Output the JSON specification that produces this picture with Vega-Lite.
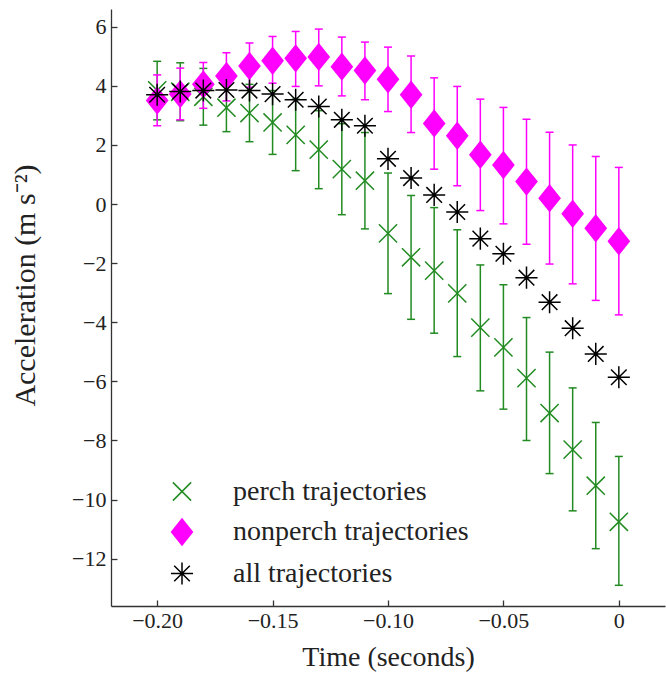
{
  "$schema": "https://vega.github.io/schema/vega-lite/v6.json",
  "autosize": {"type": "none"},
  "width": 554,
  "height": 597,
  "padding": {"left": 111, "top": 9, "right": 1, "bottom": 79},
  "background": "white",
  "config": {
    "font": "Liberation Serif",
    "view": {"stroke": null},
    "axis": {
      "grid": false,
      "labelFont": "Liberation Serif",
      "titleFont": "Liberation Serif",
      "labelFontSize": 22,
      "titleFontSize": 28,
      "titleFontWeight": "normal",
      "labelColor": "#222222",
      "titleColor": "#222222",
      "domainColor": "#333333",
      "tickColor": "#333333",
      "domainWidth": 1.3,
      "tickWidth": 1.3,
      "tickSize": -6
    },
    "legend": {
      "labelFont": "Liberation Serif",
      "labelFontSize": 28,
      "labelColor": "#222222",
      "labelLimit": 500
    }
  },
  "data": {
    "values": [
      {"t": -0.20, "series": "perch trajectories", "y": 3.85, "lo": 2.85, "hi": 4.83},
      {"t": -0.19, "series": "perch trajectories", "y": 3.80, "lo": 2.82, "hi": 4.78},
      {"t": -0.18, "series": "perch trajectories", "y": 3.63, "lo": 2.67, "hi": 4.59},
      {"t": -0.17, "series": "perch trajectories", "y": 3.26, "lo": 2.45, "hi": 4.07},
      {"t": -0.16, "series": "perch trajectories", "y": 3.08, "lo": 2.11, "hi": 4.05},
      {"t": -0.15, "series": "perch trajectories", "y": 2.76, "lo": 1.68, "hi": 3.84},
      {"t": -0.14, "series": "perch trajectories", "y": 2.34, "lo": 1.13, "hi": 3.55},
      {"t": -0.13, "series": "perch trajectories", "y": 1.84, "lo": 0.52, "hi": 3.16},
      {"t": -0.12, "series": "perch trajectories", "y": 1.18, "lo": -0.36, "hi": 2.72},
      {"t": -0.11, "series": "perch trajectories", "y": 0.79, "lo": -0.84, "hi": 2.42},
      {"t": -0.10, "series": "perch trajectories", "y": -0.99, "lo": -3.03, "hi": 1.05},
      {"t": -0.09, "series": "perch trajectories", "y": -1.80, "lo": -3.90, "hi": 0.29},
      {"t": -0.08, "series": "perch trajectories", "y": -2.25, "lo": -4.37, "hi": -0.12},
      {"t": -0.07, "series": "perch trajectories", "y": -3.02, "lo": -5.16, "hi": -0.87},
      {"t": -0.06, "series": "perch trajectories", "y": -4.18, "lo": -6.32, "hi": -2.06},
      {"t": -0.05, "series": "perch trajectories", "y": -4.85, "lo": -6.94, "hi": -2.73},
      {"t": -0.04, "series": "perch trajectories", "y": -5.89, "lo": -8.00, "hi": -3.84},
      {"t": -0.03, "series": "perch trajectories", "y": -7.07, "lo": -9.12, "hi": -5.01},
      {"t": -0.02, "series": "perch trajectories", "y": -8.31, "lo": -10.38, "hi": -6.22},
      {"t": -0.01, "series": "perch trajectories", "y": -9.53, "lo": -11.66, "hi": -7.39},
      {"t": 0.00, "series": "perch trajectories", "y": -10.75, "lo": -12.90, "hi": -8.54},
      {"t": -0.20, "series": "nonperch trajectories", "y": 3.50, "lo": 2.65, "hi": 4.37},
      {"t": -0.19, "series": "nonperch trajectories", "y": 3.72, "lo": 2.85, "hi": 4.60},
      {"t": -0.18, "series": "nonperch trajectories", "y": 4.05, "lo": 3.24, "hi": 4.79},
      {"t": -0.17, "series": "nonperch trajectories", "y": 4.33, "lo": 3.49, "hi": 5.12},
      {"t": -0.16, "series": "nonperch trajectories", "y": 4.67, "lo": 3.95, "hi": 5.45},
      {"t": -0.15, "series": "nonperch trajectories", "y": 4.85, "lo": 4.09, "hi": 5.67},
      {"t": -0.14, "series": "nonperch trajectories", "y": 4.93, "lo": 3.98, "hi": 5.84},
      {"t": -0.13, "series": "nonperch trajectories", "y": 4.98, "lo": 4.00, "hi": 5.92},
      {"t": -0.12, "series": "nonperch trajectories", "y": 4.65, "lo": 3.66, "hi": 5.65},
      {"t": -0.11, "series": "nonperch trajectories", "y": 4.52, "lo": 3.53, "hi": 5.48},
      {"t": -0.10, "series": "nonperch trajectories", "y": 4.22, "lo": 3.13, "hi": 5.31},
      {"t": -0.09, "series": "nonperch trajectories", "y": 3.70, "lo": 2.42, "hi": 5.01},
      {"t": -0.08, "series": "nonperch trajectories", "y": 2.73, "lo": 1.18, "hi": 4.27},
      {"t": -0.07, "series": "nonperch trajectories", "y": 2.31, "lo": 0.62, "hi": 3.98},
      {"t": -0.06, "series": "nonperch trajectories", "y": 1.67, "lo": -0.22, "hi": 3.55},
      {"t": -0.05, "series": "nonperch trajectories", "y": 1.32, "lo": -0.67, "hi": 3.27},
      {"t": -0.04, "series": "nonperch trajectories", "y": 0.76, "lo": -1.36, "hi": 2.87},
      {"t": -0.03, "series": "nonperch trajectories", "y": 0.20, "lo": -2.03, "hi": 2.43},
      {"t": -0.02, "series": "nonperch trajectories", "y": -0.33, "lo": -2.70, "hi": 2.00},
      {"t": -0.01, "series": "nonperch trajectories", "y": -0.82, "lo": -3.26, "hi": 1.61},
      {"t": 0.00, "series": "nonperch trajectories", "y": -1.26, "lo": -3.75, "hi": 1.24},
      {"t": -0.20, "series": "all trajectories", "y": 3.70},
      {"t": -0.19, "series": "all trajectories", "y": 3.81},
      {"t": -0.18, "series": "all trajectories", "y": 3.84},
      {"t": -0.17, "series": "all trajectories", "y": 3.86},
      {"t": -0.16, "series": "all trajectories", "y": 3.84},
      {"t": -0.15, "series": "all trajectories", "y": 3.72},
      {"t": -0.14, "series": "all trajectories", "y": 3.53},
      {"t": -0.13, "series": "all trajectories", "y": 3.30},
      {"t": -0.12, "series": "all trajectories", "y": 2.85},
      {"t": -0.11, "series": "all trajectories", "y": 2.65},
      {"t": -0.10, "series": "all trajectories", "y": 1.53},
      {"t": -0.09, "series": "all trajectories", "y": 0.88},
      {"t": -0.08, "series": "all trajectories", "y": 0.31},
      {"t": -0.07, "series": "all trajectories", "y": -0.27},
      {"t": -0.06, "series": "all trajectories", "y": -1.17},
      {"t": -0.05, "series": "all trajectories", "y": -1.68},
      {"t": -0.04, "series": "all trajectories", "y": -2.49},
      {"t": -0.03, "series": "all trajectories", "y": -3.32},
      {"t": -0.02, "series": "all trajectories", "y": -4.20},
      {"t": -0.01, "series": "all trajectories", "y": -5.07},
      {"t": 0.00, "series": "all trajectories", "y": -5.86}
    ]
  },
  "encoding": {
    "x": {
      "field": "t",
      "type": "quantitative",
      "title": "Time (seconds)",
      "scale": {"domain": [-0.22, 0.02], "nice": false, "zero": false},
      "axis": {
        "values": [-0.2, -0.15, -0.1, -0.05, 0],
        "labelExpr": "datum.value == 0 ? '0' : format(datum.value, '.2f')",
        "labelPadding": 10,
        "titlePadding": 12
      }
    }
  },
  "layer": [
    {
      "transform": [{"filter": "datum.series == 'perch trajectories'"}],
      "mark": {"type": "rule", "strokeWidth": 1.5, "color": "#228b22"},
      "encoding": {
        "y": {"field": "lo", "type": "quantitative", "title": "Acceleration (m s⁻²)", "scale": {"domain": [-13.6, 6.6], "nice": false, "zero": false}},
        "y2": {"field": "hi"}
      }
    },
    {
      "transform": [{"filter": "datum.series == 'perch trajectories'"}, {"fold": ["lo", "hi"], "as": ["end", "v"]}],
      "mark": {"type": "point", "shape": "M-1,0L1,0", "size": 64, "strokeWidth": 1.5, "filled": false, "opacity": 1, "color": "#228b22"},
      "encoding": {
        "y": {"field": "v", "type": "quantitative", "title": "Acceleration (m s⁻²)"}
      }
    },
    {
      "transform": [{"filter": "datum.series == 'nonperch trajectories'"}],
      "mark": {"type": "rule", "strokeWidth": 1.5, "color": "#ff00ff"},
      "encoding": {
        "y": {"field": "lo", "type": "quantitative", "title": "Acceleration (m s⁻²)"},
        "y2": {"field": "hi"}
      }
    },
    {
      "transform": [{"filter": "datum.series == 'nonperch trajectories'"}, {"fold": ["lo", "hi"], "as": ["end", "v"]}],
      "mark": {"type": "point", "shape": "M-1,0L1,0", "size": 64, "strokeWidth": 1.5, "filled": false, "opacity": 1, "color": "#ff00ff"},
      "encoding": {
        "y": {"field": "v", "type": "quantitative", "title": "Acceleration (m s⁻²)"}
      }
    },
    {
      "mark": {"type": "point", "size": 676, "strokeWidth": 1.5, "filled": false, "opacity": 1},
      "encoding": {
        "y": {
          "field": "y", "type": "quantitative",
          "title": "Acceleration (m s⁻²)",
          "axis": {
            "values": [-12, -10, -8, -6, -4, -2, 0, 2, 4, 6],
            "labelPadding": 11,
            "titlePadding": 31,
            "titleFontSize": 30,
            "titleY": 276
          }
        },
        "stroke": {
          "field": "series", "type": "nominal",
          "scale": {"domain": ["perch trajectories", "nonperch trajectories", "all trajectories"], "range": ["#228b22", "#ff00ff", "#000000"]},
          "legend": {
            "title": null,
            "orient": "none",
            "legendX": 57,
            "legendY": 468.5,
            "padding": 0,
            "labelOffset": 37,
            "rowPadding": 10.5,
            "symbolSize": 676,
            "symbolStrokeWidth": 1.5
          }
        },
        "fill": {
          "field": "series", "type": "nominal",
          "scale": {"domain": ["perch trajectories", "nonperch trajectories", "all trajectories"], "range": ["transparent", "#ff00ff", "transparent"]},
          "legend": {
            "title": null,
            "orient": "none",
            "legendX": 57,
            "legendY": 468.5,
            "padding": 0,
            "labelOffset": 37,
            "rowPadding": 10.5,
            "symbolSize": 676,
            "symbolStrokeWidth": 1.5
          }
        },
        "shape": {
          "field": "series", "type": "nominal",
          "scale": {
            "domain": ["perch trajectories", "nonperch trajectories", "all trajectories"],
            "range": [
              "M-0.7,-0.7L0.7,0.7M-0.7,0.7L0.7,-0.7",
              "M0,-1L0.8,0L0,1L-0.8,0Z",
              "M-0.85,0L0.85,0M0,-0.85L0,0.85M-0.6,-0.6L0.6,0.6M-0.6,0.6L0.6,-0.6"
            ]
          },
          "legend": {
            "title": null,
            "orient": "none",
            "legendX": 57,
            "legendY": 468.5,
            "padding": 0,
            "labelOffset": 37,
            "rowPadding": 10.5,
            "symbolSize": 676,
            "symbolStrokeWidth": 1.5
          }
        }
      }
    }
  ]
}
